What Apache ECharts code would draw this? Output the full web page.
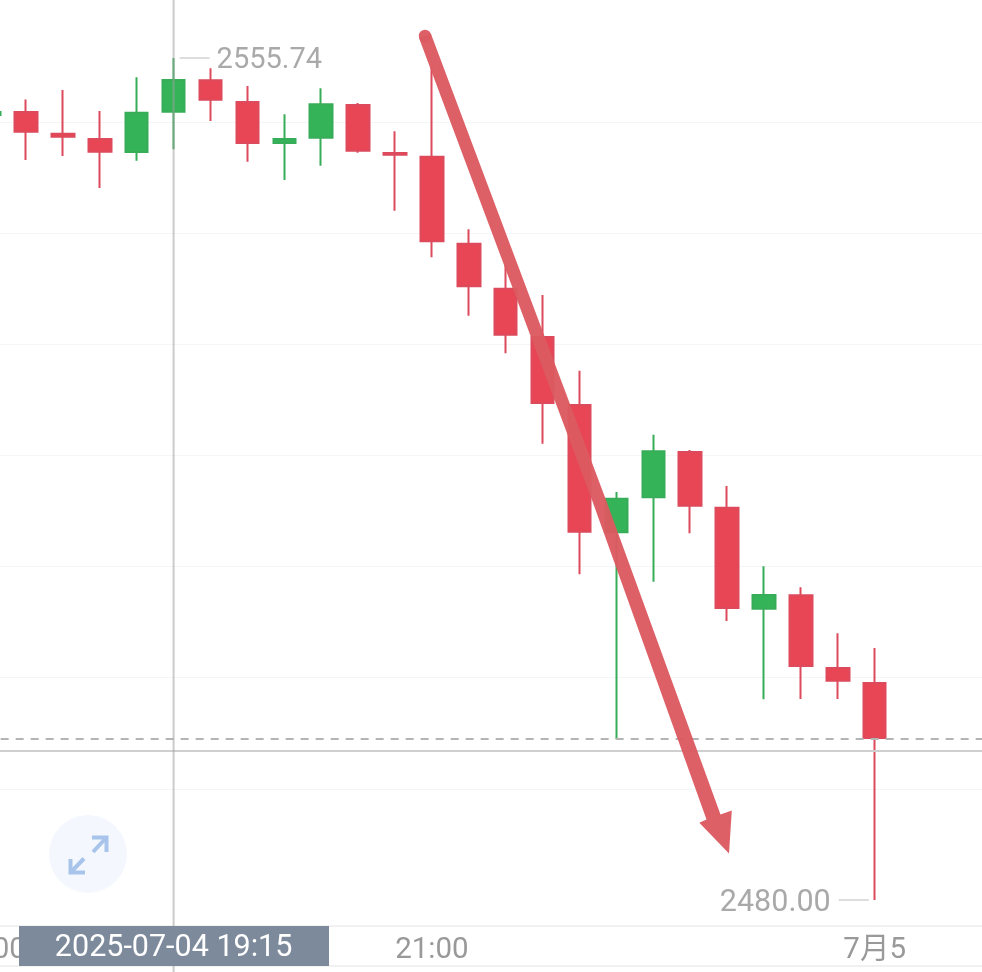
<!DOCTYPE html>
<html>
<head>
<meta charset="utf-8">
<style>html,body{margin:0;padding:0;background:#fff;overflow:hidden}#c{width:982px;height:972px}</style>
<script src="https://cdn.jsdelivr.net/npm/echarts@6/dist/echarts.min.js"></script>
</head>
<body>
<div id="c"></div>
<script>
const categories = ['18:00','18:15','18:30','18:45','19:00','19:15','19:30','19:45','20:00','20:15','20:30','20:45',
  '21:00','21:15','21:30','21:45','22:00','22:15','22:30','22:45','23:00','23:15','23:30','23:45','7月5','00:15','00:30','00:45'];
const opens  = [2550.61,2550.88,2548.93,2548.45,2547.28,2550.91,2553.73,2551.78,2548.09,2548.57,2551.51,2547.19,2546.86,2539.04,2534.99,2530.64,2524.53,2513.08,2516.22,2520.30,2515.29,2506.20,2507.41,2500.87,2499.52];
const closes = [2550.88,2549.11,2548.66,2547.31,2550.82,2553.76,2551.99,2548.09,2548.45,2551.58,2547.40,2547.04,2539.25,2535.20,2530.85,2524.71,2513.13,2516.10,2520.36,2515.47,2506.27,2507.44,2501.05,2499.73,2494.57];
const lows   = [2550.20,2546.57,2546.92,2544.05,2546.50,2547.53,2550.07,2546.41,2544.77,2546.05,2547.22,2542.00,2537.81,2532.56,2529.18,2521.05,2509.30,2494.48,2508.63,2512.99,2505.10,2498.05,2498.08,2498.08,2480.00];
const highs  = [2551.20,2552.01,2552.86,2550.97,2554.00,2555.74,2554.81,2553.22,2550.68,2553.01,2551.69,2549.15,2554.96,2540.33,2537.12,2534.42,2527.61,2516.70,2521.86,2520.48,2517.24,2510.02,2508.13,2503.99,2502.67];
const lastPrice = 2494.48;
const crosshairPrice = 2493.42;
const crosshairCategory = '19:15';
const crosshairLabel = '2025-07-04 19:15';
const highLabel = '2555.74', lowLabel = '2480.00';
const highIndex = 5, lowIndex = 24;

const RED = '#e84655', GREEN = '#35b358', FONT = 'Roboto, "Noto Sans CJK SC", sans-serif';
const chart = echarts.init(document.getElementById('c'), null, {renderer:'canvas'});
const candles = opens.map((o,i)=>[o,closes[i],lows[i],highs[i]]);

chart.setOption({
  animation:false,
  backgroundColor:'#fff',
  grid:{left:-29.35,width:1033.2,top:10.64,height:889.36,containLabel:false,outerBoundsMode:'none'},
  xAxis:{
    type:'category',data:categories,boundaryGap:true,offset:26,
    axisLine:{show:true,onZero:false,lineStyle:{color:'#f1f1f1',width:2}},
    axisTick:{show:false},splitLine:{show:false},
    axisLabel:{show:true,interval:(i)=>i%12===0,color:'#999',fontSize:29.5,fontFamily:FONT,margin:10}
  },
  yAxis:{
    type:'value',min:2480,max:2560,interval:10,
    axisLine:{show:false},axisTick:{show:false},axisLabel:{show:false},
    splitLine:{show:true,showMinLine:false,showMaxLine:false,lineStyle:{color:'#f3f5f6',width:1}}
  },
  series:[{
    type:'candlestick',data:candles,barWidth:23,
    itemStyle:{color:GREEN,color0:RED,borderColor:'#38ad59',borderColor0:'#dc4a5b',borderWidth:2},
    markLine:{
      silent:true,symbol:'none',label:{show:false},animation:false,
      data:[
        {yAxis:lastPrice,lineStyle:{color:'#b4b4b4',width:2,type:[8,7]}},
        {yAxis:crosshairPrice,lineStyle:{color:'#cfcfcf',width:2,type:'solid'}}
      ]
    }
  }]
});

const cx = chart.convertToPixel({xAxisIndex:0},crosshairCategory);
const hiP = chart.convertToPixel({xAxisIndex:0,yAxisIndex:0},[highIndex,+highLabel]);
const loP = chart.convertToPixel({xAxisIndex:0,yAxisIndex:0},[lowIndex,+lowLabel]);
const ARROW = '#dc5a61';
const L = (x1,y1,x2,y2,stroke,w,z)=>({type:'line',z,silent:true,shape:{x1,y1,x2,y2},style:{stroke,lineWidth:w}});
const T = (x,y,text,fill,align,z,size)=>({type:'text',z,silent:true,x,y,style:{text,fill,font:'400 '+size+'px '+FONT,align,verticalAlign:'middle'}});

chart.setOption({graphic:{elements:[
  {type:'line',z:5,silent:true,shape:{x1:0,y1:966,x2:982,y2:966},style:{stroke:'#f1f1f1',lineWidth:2}},
  L(cx,0,cx,972,'rgba(160,160,160,0.55)',2,6),
  {type:'rect',z:7,silent:true,shape:{x:19,y:926,width:310,height:40},style:{fill:'#7c8a9b'}},
  T(cx,948,crosshairLabel,'#fff','center',8,30.5),
  L(hiP[0]+6,hiP[1],hiP[0]+36,hiP[1],'#d2d2d2',1.5,6),
  T(hiP[0]+43,hiP[1]+3,highLabel,'#a9a9a9','left',8,29),
  L(loP[0]-36,loP[1],loP[0]-6,loP[1],'#d2d2d2',1.5,6),
  T(loP[0]-44,loP[1]+3,lowLabel,'#a9a9a9','right',8,30.5),
  {type:'circle',z:6,silent:true,shape:{cx:88,cy:854,r:39},style:{fill:'#f4f8fe'}},
  {type:'polyline',z:7,silent:true,shape:{points:[[92,837.5],[106.5,837.5],[106.5,852]]},style:{stroke:'#a8c4ea',lineWidth:4,fill:null}},
  L(93,852,105.5,838.5,'#a8c4ea',4,7),
  {type:'polyline',z:7,silent:true,shape:{points:[[70.5,859],[70.5,872.5],[85,872.5]]},style:{stroke:'#a8c4ea',lineWidth:4,fill:null}},
  L(84,858.5,71.5,871.5,'#a8c4ea',4,7),
  {type:'polygon',z:9,silent:true,shape:{points:[
    [419,38],[592,500],[706.5,819.5],
    [699.3,822.7],[729,853.5],[731.8,810.5],[720.5,814.5],
    [606,500],[431,34]
  ]},style:{fill:ARROW,opacity:0.96}},
  {type:'circle',z:9,silent:true,shape:{cx:425,cy:36,r:6.2},style:{fill:ARROW,opacity:0.96}}
]}});
</script>
</body>
</html>
